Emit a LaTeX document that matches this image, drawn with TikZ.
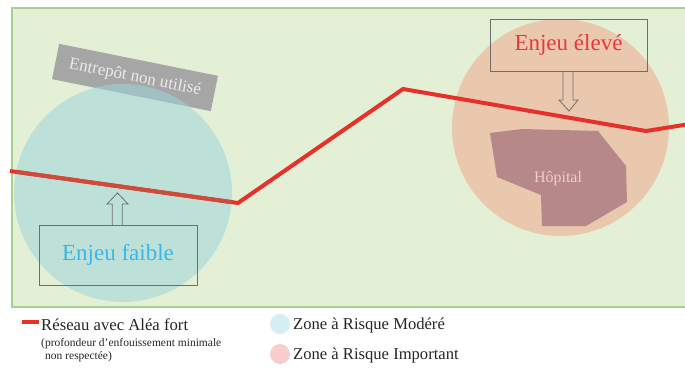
\documentclass[tikz,border=0pt]{standalone}
\usepackage{fontspec}
\setmainfont{Liberation Serif}
\definecolor{bggreen}{HTML}{E4F0D5}
\definecolor{bgborder}{HTML}{A9D18E}
\definecolor{zoneblue}{HTML}{9ED6DC}
\definecolor{zoneorange}{HTML}{EAC8AE}
\definecolor{hosp}{HTML}{B6888A}
\definecolor{hosptext}{HTML}{EDCDCD}
\definecolor{boxline}{HTML}{6E6E6E}
\definecolor{lowtext}{HTML}{3DB5E6}
\definecolor{hightext}{HTML}{E8383A}
\definecolor{netred}{HTML}{E8302A}
\definecolor{netdark}{HTML}{CF4A38}
\definecolor{leglblue}{HTML}{D5EEF6}
\definecolor{leglpink}{HTML}{F8CDCD}
\definecolor{warehouse}{HTML}{A6A6A6}
\tikzset{
  fs/.style={font=\fontsize{#1}{#1}\selectfont},
  callout/.style={draw=boxline, line width=0.8pt},
  legtext/.style={anchor=west, inner sep=0pt, text=black!85},
  network/.style={draw=netred, line width=4pt, line join=round},
}
\begin{document}
\begin{tikzpicture}[x=1pt,y=-1pt]
\useasboundingbox (0,0) rectangle (685,374);
\clip (0,0) rectangle (685,374);
\fill[white] (0,0) rectangle (685,374);
% background field
\draw[fill=bggreen, draw=bgborder, line width=1.5pt] (12,8) rectangle (695,307);
% warehouse
\node[fill=warehouse, rotate=-11.4, minimum width=162pt, minimum height=36pt, inner sep=0pt,
      text=white!92!black, fs=17] (wh) at (135,77.5) {Entrepôt non utilisé};
% zones
\fill[zoneorange] (560.5,127.5) circle (108.5);
\node[circle, minimum size=217pt, inner sep=0pt] (zhigh) at (560.5,127.5) {};
\fill[zoneblue, opacity=0.55] (123,193) circle (109);
\node[circle, minimum size=218pt, inner sep=0pt] (zlow) at (123,193) {};
% network line
\coordinate (n1) at (10,171);
\coordinate (n2) at (238,203);
\coordinate (n3) at (403,89);
\coordinate (n4) at (646,131);
\coordinate (n5) at (690,124);
\draw[network] (n1) -- (n2) -- (n3) -- (n4) -- (n5);
\begin{scope}
  \clip (123,193) circle (109);
  \draw[network, draw=netdark] (n1) -- (n2) -- (n3);
\end{scope}
% hospital
\fill[hosp] (490,133) -- (522,129) -- (598,131) -- (626,166) -- (627,202) -- (586,226)
  -- (542,226) -- (541,195) -- (497,177) -- cycle;
\node[text=hosptext, fs=16] (hop) at (558,179) {Hôpital};
% callout low
\node[callout, minimum width=158pt, minimum height=60pt, inner sep=0pt, text=lowtext, fs=23]
  (low) at (118,255) {Enjeu faible};
\draw[callout] (112.3,225) -- (112.3,204) -- (107,204) -- (117.5,193) -- (128,204)
  -- (122.3,204) -- (122.3,225);
% callout high
\node[callout, minimum width=157pt, minimum height=52pt, inner sep=0pt, text=hightext, fs=23]
  (high) at (568.5,45) {Enjeu élevé};
\draw[callout] (563,71) -- (563,100) -- (559,100) -- (569,111) -- (578,100)
  -- (573,100) -- (573,71);
% legend
\draw[draw=netred, line width=3.5pt] (22,322) coordinate (l1) -- (39,322) coordinate (l2);
\node[legtext, fs=16.7] (leg1) at (41,325) {Réseau avec Aléa fort};
\node[legtext, fs=11.5] (leg2) at (41,344) {(profondeur d’enfouissement minimale};
\node[legtext, fs=11.5] (leg3) at (45,357) {non respectée)};
\fill[leglblue] (280,324) circle (10);
\node[circle, minimum size=20pt, inner sep=0pt] (cb) at (280,324) {};
\fill[leglpink] (280,354) circle (10);
\node[circle, minimum size=20pt, inner sep=0pt] (cp) at (280,354) {};
\node[legtext, fs=16.6] (leg4) at (293,325) {Zone à Risque Modéré};
\node[legtext, fs=16.6] (leg5) at (293,355) {Zone à Risque Important};
\end{tikzpicture}
\end{document}
